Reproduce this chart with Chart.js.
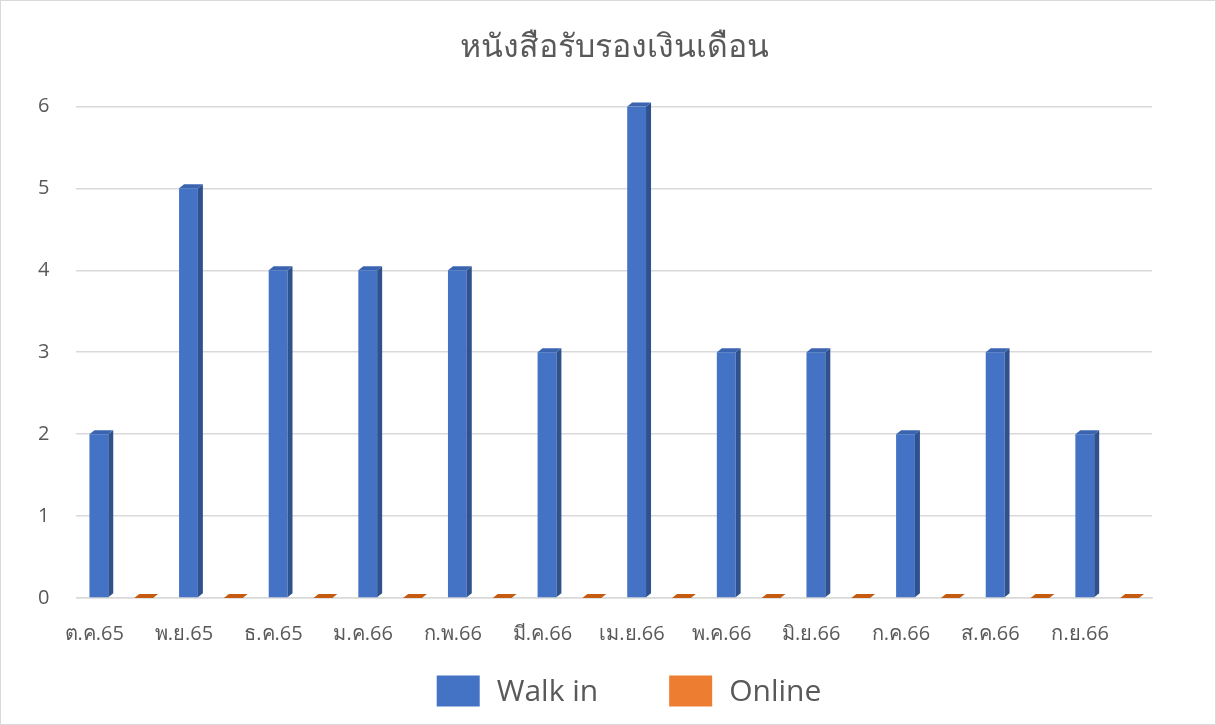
<!DOCTYPE html>
<html>
<head>
<meta charset="utf-8">
<script src="https://cdn.jsdelivr.net/npm/chart.js@4"></script>
<style>
  html, body { margin: 0; padding: 0; background: #fff; }
  #wrap { position: relative; width: 1214px; height: 723px; border: 1px solid #d9d9d9; }
</style>
</head>
<body>
<div id="wrap"><canvas id="chart"></canvas></div>
<script>
// ข้อมูลกราฟ
const months = ["ต.ค.65", "พ.ย.65", "ธ.ค.65", "ม.ค.66", "ก.พ.66", "มี.ค.66",
  "เม.ย.66", "พ.ค.66", "มิ.ย.66", "ก.ค.66", "ส.ค.66", "ก.ย.66"];
const walkIn = [2, 5, 4, 4, 4, 3, 6, 3, 3, 2, 3, 2];
const online = [0, 0, 0, 0, 0, 0, 0, 0, 0, 0, 0, 0];
const yTicks = [0, 1, 2, 3, 4, 5, 6];

const FONT = "'Open Sans', 'Noto Sans', sans-serif";
const GREY = "#595959";

// วาดด้านข้าง/ด้านบนให้แท่งดูเป็น 3 มิติ
const depthPlugin = {
  id: "depth",
  afterDatasetsDraw(chart) {
    const ctx = chart.ctx;
    const dx = 5, dy = 4;
    const faces = [
      { side: "#2f528f", top: "#3a64b0" },
      { side: "#b65a1f", top: "#c55a11" },
    ];
    chart.data.datasets.forEach((ds, di) => {
      const meta = chart.getDatasetMeta(di);
      meta.data.forEach((bar) => {
        const p = bar.getProps(["x", "y", "base", "width"], true);
        const l = p.x - p.width / 2, r = p.x + p.width / 2;
        ctx.save();
        if (Math.abs(p.base - p.y) < 1) {
          // ค่าเป็นศูนย์ -> แผ่นแบนบนพื้น
          ctx.fillStyle = faces[di].top;
          ctx.beginPath();
          ctx.moveTo(l, p.base);
          ctx.lineTo(l + dx, p.base - dy);
          ctx.lineTo(r + dx, p.base - dy);
          ctx.lineTo(r, p.base);
          ctx.closePath();
          ctx.fill();
        } else {
          ctx.fillStyle = faces[di].side;
          ctx.beginPath();
          ctx.moveTo(r, p.y);
          ctx.lineTo(r + dx, p.y - dy);
          ctx.lineTo(r + dx, p.base - dy);
          ctx.lineTo(r, p.base);
          ctx.closePath();
          ctx.fill();
          ctx.fillStyle = faces[di].top;
          ctx.beginPath();
          ctx.moveTo(l, p.y);
          ctx.lineTo(l + dx, p.y - dy);
          ctx.lineTo(r + dx, p.y - dy);
          ctx.lineTo(r, p.y);
          ctx.closePath();
          ctx.fill();
        }
        ctx.restore();
      });
    });
  },
};

// legend แบบกำหนดเอง (ระยะห่างแนวนอนกว้างกว่าที่ Chart.js ให้ได้)
const legendPlugin = {
  id: "bottomLegend",
  afterDraw(chart) {
    const ctx = chart.ctx;
    const boxW = 43, boxH = 31, gap = 17, itemGap = 71;
    const cy = 690;
    ctx.save();
    ctx.font = `30px ${FONT}`;
    ctx.textBaseline = "middle";
    const items = chart.data.datasets.map((ds) => ({
      text: ds.label,
      color: ds.backgroundColor,
      w: boxW + gap + ctx.measureText(ds.label).width,
    }));
    const total = items.reduce((a, it) => a + it.w, 0) + itemGap * (items.length - 1);
    let x = chart.width / 2 + 21 - total / 2;
    items.forEach((it) => {
      ctx.fillStyle = it.color;
      ctx.fillRect(x, cy - boxH / 2, boxW, boxH);
      ctx.fillStyle = GREY;
      ctx.fillText(it.text, x + boxW + gap, cy + 1);
      x += it.w + itemGap;
    });
    ctx.restore();
  },
};

new Chart(document.getElementById("chart"), {
  type: "bar",
  data: {
    labels: months,
    datasets: [
      {
        label: "Walk in",
        data: walkIn,
        backgroundColor: "#4472c4",
        barPercentage: 0.42,
        categoryPercentage: 1.0,
      },
      {
        label: "Online",
        data: online,
        backgroundColor: "#ed7d31",
        barPercentage: 0.42,
        categoryPercentage: 1.0,
      },
    ],
  },
  options: {
    responsive: true,
    maintainAspectRatio: false,
    animation: false,
    layout: { padding: { left: 10, right: 63, top: 0, bottom: 62 } },
    scales: {
      x: {
        grid: { display: false },
        border: { display: true, color: "#d9d9d9", width: 1.5 },
        afterFit: (scale) => {
          scale.paddingLeft = 0;
          scale.paddingRight = 0;
        },
        ticks: {
          color: GREY,
          font: { family: FONT, size: 20 },
          padding: 16,
          labelOffset: -27,
          maxRotation: 0,
          autoSkip: false,
        },
      },
      y: {
        min: 0,
        max: 6,
        afterBuildTicks: (axis) => {
          axis.ticks = yTicks.map((v) => ({ value: v }));
        },
        grid: { color: "#d9d9d9", lineWidth: 1.5, drawTicks: false },
        border: { display: false },
        ticks: {
          color: GREY,
          font: { family: FONT, size: 20 },
          padding: 27,
        },
      },
    },
    plugins: {
      title: {
        display: true,
        fullSize: false,
        text: "หนังสือรับรองเงินเดือน",
        color: GREY,
        font: { family: FONT, size: 32, weight: "normal" },
        padding: { top: 28, bottom: 39 },
      },
      legend: { display: false },
      tooltip: { enabled: false },
    },
  },
  plugins: [depthPlugin, legendPlugin],
});
</script>
</body>
</html>
